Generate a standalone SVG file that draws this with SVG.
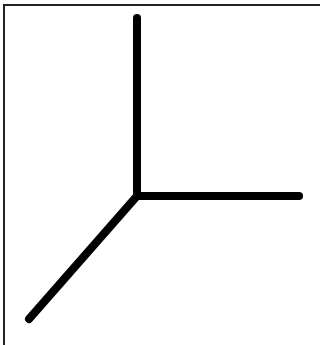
<svg xmlns="http://www.w3.org/2000/svg" width="320" height="345" viewBox="0 0 320 345">
<style>
.frame{fill:#fff;stroke:#222;stroke-width:2}
.arm{stroke:#000;stroke-width:8;stroke-linecap:round;fill:none}
</style>
<rect x="0" y="0" width="320" height="345" fill="#fff"/>
<rect class="frame" x="4" y="5" width="330" height="350"/>
<g id="connectors">
<line class="arm" x1="137" y1="196" x2="137" y2="18"/>
<line class="arm" x1="137" y1="196" x2="299" y2="196"/>
<line class="arm" x1="137" y1="196" x2="29" y2="319"/>
</g>
</svg>
